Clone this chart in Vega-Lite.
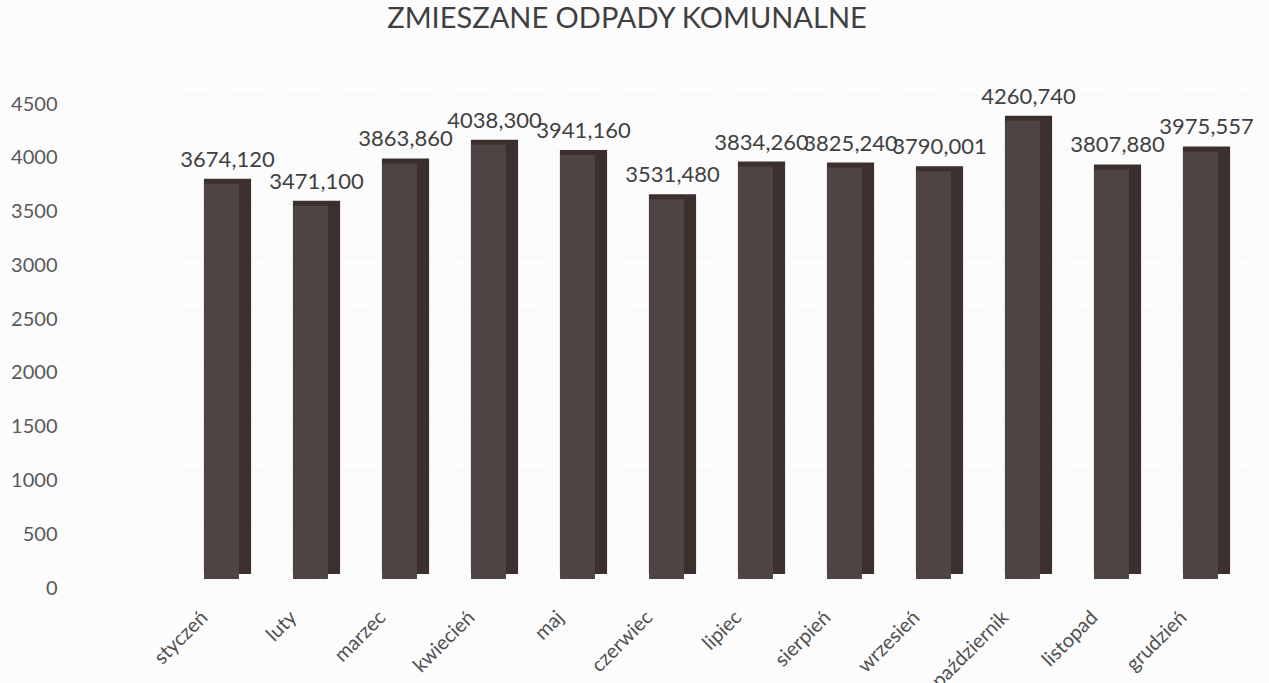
{
  "$schema": "https://vega.github.io/schema/vega-lite/v6.json",
  "width": 1068,
  "height": 484,
  "autosize": {"type": "none"},
  "padding": {"left": 183, "top": 95, "right": 18, "bottom": 104},
  "background": "#fcfcfc",
  "config": {
    "locale": {"number": {"decimal": ",", "thousands": " ", "grouping": [3], "currency": ["", " zł"]}},
    "view": {"stroke": null},
    "font": "Lato"
  },
  "title": {
    "text": "ZMIESZANE ODPADY KOMUNALNE",
    "fontSize": 29,
    "fontWeight": "normal",
    "color": "#404040",
    "font": "Lato",
    "anchor": "middle",
    "baseline": "alphabetic",
    "offset": 29,
    "dx": -90
  },
  "data": {
    "values": [
      {"miesiac": "styczeń", "wartosc": 3674.120},
      {"miesiac": "luty", "wartosc": 3471.100},
      {"miesiac": "marzec", "wartosc": 3863.860},
      {"miesiac": "kwiecień", "wartosc": 4038.300},
      {"miesiac": "maj", "wartosc": 3941.160},
      {"miesiac": "czerwiec", "wartosc": 3531.480},
      {"miesiac": "lipiec", "wartosc": 3834.260},
      {"miesiac": "sierpień", "wartosc": 3825.240},
      {"miesiac": "wrzesień", "wartosc": 3790.001},
      {"miesiac": "październik", "wartosc": 4260.740},
      {"miesiac": "listopad", "wartosc": 3807.880},
      {"miesiac": "grudzień", "wartosc": 3975.557}
    ]
  },
  "encoding": {
    "x": {
      "field": "miesiac",
      "type": "nominal",
      "sort": null,
      "scale": {"paddingInner": 0.47, "paddingOuter": 0.235},
      "axis": {
        "title": null,
        "labelAngle": -45,
        "labelFontSize": 20,
        "labelColor": "#505050",
        "labelFont": "Lato",
        "ticks": false,
        "domain": false,
        "labelPadding": 28,
        "labelOffset": -30
      }
    },
    "y": {
      "field": "wartosc",
      "type": "quantitative",
      "scale": {"domain": [0, 4500], "nice": false},
      "axis": {
        "title": null,
        "values": [0, 500, 1000, 1500, 2000, 2500, 3000, 3500, 4000, 4500],
        "format": "d",
        "labelFontSize": 20,
        "labelColor": "#595959",
        "labelFont": "Lato",
        "ticks": false,
        "domain": false,
        "labelPadding": 126,
        "labelOffset": 9,
        "grid": true,
        "gridColor": "#f0f0f0",
        "gridDash": [3, 4]
      }
    }
  },
  "layer": [
    {"mark": {"type": "bar", "color": "#3b302e", "yOffset": -5}},
    {"mark": {"type": "bar", "color": "#4d4443", "width": {"band": 0.74}, "xOffset": -6}},
    {
      "mark": {"type": "text", "dy": -24, "fontSize": 22, "color": "#404040", "font": "Lato"},
      "encoding": {"text": {"field": "wartosc", "type": "quantitative", "format": ".3f"}}
    }
  ]
}
